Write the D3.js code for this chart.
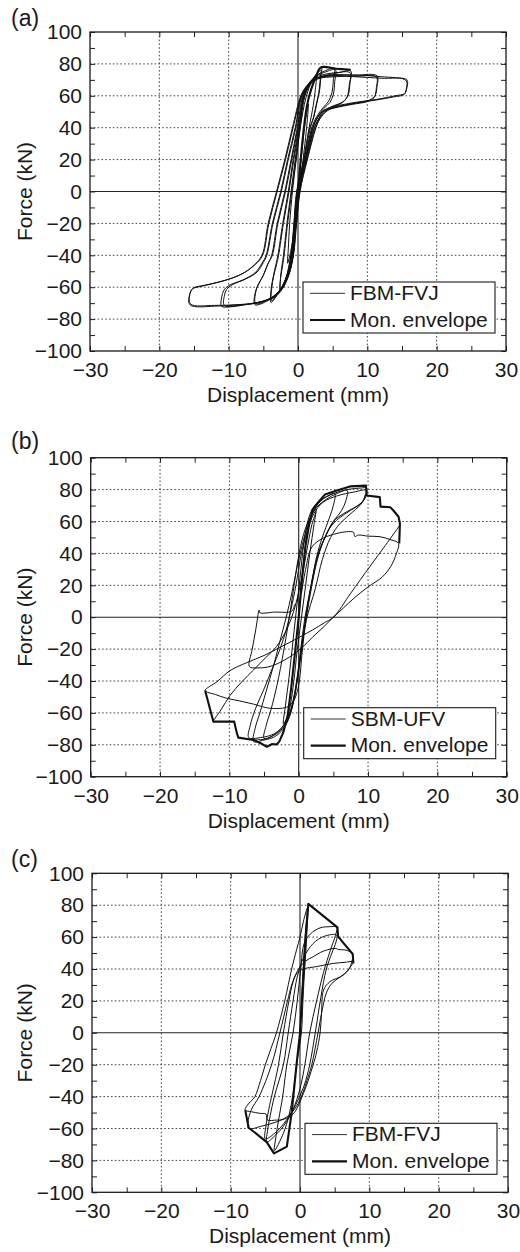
<!DOCTYPE html>
<html><head><meta charset="utf-8">
<script src="https://cdn.jsdelivr.net/npm/d3@7/dist/d3.min.js"></script>
<style>
body{margin:0;background:#fff}
text{font-family:"Liberation Sans",Arial,Helvetica,sans-serif;fill:#1a1a1a}
</style></head>
<body><svg id="chart" width="520" height="1252"></svg>
<script>
// ---------------- data ----------------
const xMajor = [-30, -20, -10, 0, 10, 20, 30];
const xMinor = [-30, -25, -20, -15, -10, -5, 0, 5, 10, 15, 20, 25, 30];
const yMajor = [-100, -80, -60, -40, -20, 0, 20, 40, 60, 80, 100];
const yMinor = [-100, -90, -80, -70, -60, -50, -40, -30, -20, -10, 0, 10, 20, 30, 40, 50, 60, 70, 80, 90, 100];
const panelLabels = ["(a)", "(b)", "(c)"];
const seriesNames = [["FBM-FVJ", "Mon. envelope"], ["SBM-UFV", "Mon. envelope"], ["FBM-FVJ", "Mon. envelope"]];
const xTitle = "Displacement (mm)";
const yTitle = "Force (kN)";

// (a) FBM-FVJ cyclic
const cyclicA1 = [[0,0],[0.5,22],[1.0,42],[1.5,55],
[1.35,45],[1.0,30],[0.6,15],[0.1,0],[-0.3,-15],[-0.8,-32],[-1.5,-45],
[-1.4,-36],[-1.2,-20],[-0.8,0],[-0.2,22],[0.4,42],[1.1,58],[1.8,67],[2.6,72],
[2.5,64],[2.2,54],[1.6,40],[0.8,20],[-0.2,0],[-0.6,-20],[-1.0,-40],[-1.7,-54],[-2.6,-62],
[-2.5,-54],[-2.2,-46],[-2.0,-40],[-1.5,-20],[-0.9,0],[-0.3,20],[0.3,40],[1.0,60],[1.8,68],[2.6,73.5],[3.4,77.5],
[3.3,72],[3.1,63],[2.7,55],[2.3,47],[1.8,40],[0.9,20],[-0.1,0],[-0.5,-20],[-0.9,-40],[-1.6,-53],[-2.6,-62],[-3.9,-69.5],
[-3.9,-62],[-3.6,-54],[-3.2,-46],[-2.9,-40],[-2.2,-20],[-1.4,0],[-0.7,20],[0.1,40],[0.8,60],[1.6,68],[2.6,72.5],[3.8,75.5],[5.2,77],
[5.1,70],[4.9,62],[4.4,56.5],[3.6,52.5],[2.7,47],[2.0,40],[1.0,20],[0,0],[-0.4,-20],[-0.8,-40],[-1.5,-53],[-2.6,-62],[-4,-67.5],[-6.2,-71],
[-6.2,-64],[-5.8,-59],[-5.1,-53.5],[-4.4,-46],[-3.8,-40],[-3.0,-20],[-1.9,0],[-1.0,20],[-0.1,40],[0.7,60],[1.5,67],[2.6,71.5],[4.2,73.8],[6,74.7],[7.6,75.5],
[7.5,68],[7.2,60],[6.5,56.3],[5,53.5],[3.6,50.5],[2.8,46],[2.2,40],[1.1,20],[0.1,0],[-0.3,-20],[-0.75,-40],[-1.4,-52],[-2.4,-61],[-3.8,-67],[-6,-70],[-8.5,-71.3],[-11,-72],
[-11,-66],[-10.7,-62],[-10,-59],[-8,-55.5],[-6.2,-51],[-5.2,-45],[-4.6,-40],[-3.7,-20],[-2.5,0],[-1.5,20],[-0.4,40],[0.5,60],[1.4,66],[2.6,70.5],[5,72.5],[8.5,73],[11.4,72.5],
[11.4,66],[11.1,60],[10.3,57.3],[8,55.2],[5.5,53],[3.8,50.5],[3,45.5],[2.4,40],[1.2,20],[0.2,0],[-0.25,-20],[-0.7,-40],[-1.3,-52],[-2.3,-61],[-3.5,-66],[-5.5,-69.5],[-8.5,-71],[-11.5,-71.8],[-15.6,-71],
[-15.6,-64],[-15.2,-61],[-14,-59.5],[-12,-57.5],[-10,-55],[-8,-51.5],[-6.3,-46],[-5.2,-40],[-4.3,-20],[-3.1,0],[-1.9,20],[-0.8,40],[0.4,60],[1.2,66],[2.2,70],[4,72.5],[8,72],[12,71],[15.7,70],
[15.7,65],[15.4,61.5],[14,60],[11.4,57.8],[7.5,55.3],[4.5,52],[3.3,47],[2.6,40],[1.35,20],[0.3,0],[-0.2,-20],[-0.65,-40],[-1.3,-52],[-2.1,-60],[-3,-65],[-4,-68]];
const cyclicA2 = [[-2.6,-61],[-2.5,-53],[-2.3,-46],[-2.1,-40],[-1.6,-20],[-1.0,0],[-0.4,20],[0.2,40],[0.9,59],[1.7,67],[2.5,72.5],[3.3,76],
[3.2,70],[3.0,62],[2.6,54],[2.2,46],[1.7,40],[0.85,20],[-0.15,0],[-0.55,-20],[-0.95,-40],[-1.7,-54],[-2.7,-62.5],[-3.8,-68.5],
[-3.8,-61],[-3.5,-53],[-3.1,-46],[-2.8,-40],[-2.1,-20],[-1.3,0],[-0.6,20],[0.2,40],[0.9,60],[1.7,68],[2.7,72.5],[4,75],[5.4,76.3],
[5.3,69],[5.1,61],[4.6,55.8],[3.7,52],[2.8,46.5],[2.1,40],[1.05,20],[0.05,0],[-0.35,-20],[-0.8,-40],[-1.5,-53],[-2.6,-62],[-4,-67],[-6.1,-70.3],
[-6.1,-63],[-5.7,-58],[-5,-52.5],[-4.3,-45],[-3.7,-40],[-2.9,-20],[-1.8,0],[-0.9,20],[0,40],[0.8,60],[1.6,67],[2.7,71],[4.5,73.3],[7.5,74.5],
[7.4,67],[7.1,59.5],[6.4,55.7],[4.9,53],[3.5,50],[2.7,45.5],[2.15,40],[1.1,20],[0.1,0],[-0.3,-20],[-0.75,-40],[-1.4,-52],[-2.5,-61],[-4,-67],[-6.5,-70],[-10.6,-71.5],
[-10.6,-65],[-10.3,-61.5],[-9.5,-58.5],[-7.6,-55],[-5.9,-50.5],[-5,-44.5],[-4.5,-40],[-3.6,-20],[-2.4,0],[-1.4,20],[-0.3,40],[0.6,60],[1.5,66],[2.8,70.5],[5.5,72],[8.5,72.3],[11.3,71.8],
[11.3,65],[11,59],[10.1,56.5],[7.8,54.6],[5.3,52.4],[3.7,50],[2.9,45],[2.35,40],[1.15,20],[0.15,0],[-0.3,-20],[-0.7,-40],[-1.35,-52],[-2.4,-61],[-3.7,-66.3],[-6,-69.8],[-9,-71],[-12,-71.4],[-15.5,-70.5],
[-15.5,-63],[-15,-60.3],[-13.5,-58.8],[-11.5,-56.8],[-9.5,-54.3],[-7.6,-50.5],[-6.1,-45.5],[-5.1,-40],[-4.2,-20],[-3.0,0],[-1.8,20],[-0.7,40],[0.5,60],[1.3,66],[2.4,70.3],[4.5,73],[8,73],[12,72],[15.6,69.5],
[15.6,64],[15.3,60.8],[13.8,59.3],[11.2,57.3],[7.5,54.8],[4.6,51.6],[3.4,47],[2.55,40],[1.3,20],[0.25,0],[-0.2,-20]];
const envelopeA = [[-2.2,-60],[-1.5,-52],[-0.9,-38],[-0.4,-18],[0,0],[0.35,18],[0.8,38],[1.3,54],[1.9,64],[2.6,72],[3.3,77.8],[5.5,77],[7.6,76.3]];

// (b) SBM-UFV cyclic
const cyclicB1 = [[0,0],[0.3,15],[0.7,35],[1.1,50],[1.5,60],[2,65],[2.5,68],
[2.2,58],[1.6,40],[1,20],[0.4,0],[-0.2,-20],[-0.7,-40],[-1.2,-55],[-1.7,-63],[-2.2,-67],
[-1.9,-55],[-1.4,-38],[-0.9,-18],[-0.4,2],[0.2,25],[0.7,45],[1.3,60],[2,68],[3,73],[4.2,76],[5.2,77.5],
[5,70],[4.4,62],[3.4,50],[2.6,38],[1.8,20],[0.9,0],[0.3,-20],[-0.3,-40],[-0.9,-55],[-1.6,-65],[-2.6,-71],[-3.8,-74.5],[-5,-76],
[-4.7,-68],[-4,-58],[-3.1,-42],[-2.2,-22],[-1.5,-4],[-0.8,16],[-0.1,36],[0.7,52],[1.6,62],[2.6,69],[4,74],[5.5,77.5],[7,79.5],
[6.8,73],[6.2,67],[5,60],[3.8,50],[2.8,40],[2,25],[1.2,5],[0.5,-15],[-0.1,-35],[-0.6,-50],[-1.3,-62],[-2.2,-70],[-3.5,-75],[-5,-77],[-6.5,-78],
[-6.3,-70],[-5.6,-60],[-4.6,-45],[-3.6,-30],[-2.7,-15],[-1.8,0],[-1,15],[-0.2,32],[0.6,47],[1.5,60],[2.3,68],[3.5,74],[5,77.5],[7,80],[9,81],[9.8,81],
[9.6,76],[9,71.5],[7.5,67],[5.8,62],[4.5,56],[3.3,45],[2.3,30],[1.5,12],[0.8,-8],[0.2,-28],[-0.4,-45],[-1,-57],[-2,-67],[-3.5,-73],[-5.5,-75.5],[-7.2,-75.5],
[-7,-68],[-6.2,-57],[-5,-45],[-3.8,-32],[-2.7,-20],[-1.8,-8],[-1.1,5],[-0.4,20],[0.4,40],[1.3,55],[2.2,65],[3.5,72],[5.5,76],[8,78.5],[9.8,79.5],
[9.5,74],[8.5,70],[6.5,65],[5,60],[3.8,50],[2.8,38],[1.9,20],[1.1,0],[0.4,-20],[-0.2,-38],[-0.8,-52],[-1.6,-63],[-2.8,-71],[-4.5,-76],[-6.8,-77]];
const cyclicB2 = [[0.4,15],[1,30],[1.9,44],[3.5,49.5],[5.5,52.5],[6.9,53.6],[7.9,53.3],[8.1,50.6],[8.6,51.5],[10,50.8],[11.7,50.5],[13.3,48.5],[14.4,46.3],
[14.1,40],[13.3,32],[12,25],[10,19],[8,12],[6.5,6],[5,0],[3.5,-6.5],[2,-12.5],[0.5,-19],[-1.25,-24.8],[-3,-29],[-4.5,-31.3],[-6,-31.8],[-7.1,-31],
[-6.7,-20],[-6.2,-8],[-5.7,4.5],[-5.6,2.8],[-3.5,3.2],[-1,3.8],[-0.6,8]];
const cyclicB3 = [[9.6,77],[9.2,72],[7.8,66],[6,59],[4.6,50],[3.4,36],[2.4,18],[1.1,-2],[0.5,-22],[0.1,-40],[-0.3,-48],[-0.8,-53],[-1.5,-56],[-2.7,-57.2],[-4.6,-56.8],[-6.5,-54.5],[-8.5,-52.5],[-10.4,-50.8],[-12,-48.5],[-13.5,-46],
[-11.8,-40.5],[-9.9,-33.5],[-7.5,-28.5],[-5,-24],[-2.5,-18.5],[-0.3,-13.5],[2,-8],[3.7,-3.5],[5,0],[7.5,15],[10.3,32],[12.5,45],[14.6,57.8]];
const cyclicB4 = [[-12.3,-64.8],[-11.2,-58],[-9.9,-49],[-8.2,-40.5],[-6.5,-33],[-4.8,-25.5],[-3.2,-18.5],[-2,-10],[-1,0],[-0.2,12],[0.6,28],[1.3,45],[1.9,58],[2.5,66]];
const envelopeB = [[-13.5,-46],[-12.3,-65.5],[-9.3,-65.5],[-8.9,-73],[-8.7,-75.5],[-6.5,-77],[-5.5,-79],[-4.6,-81.2],[-3.8,-79.5],[-3.2,-79.8],[-2.8,-78],[-2.2,-72],[-1.6,-62],[-1.1,-45],[-0.6,-25],[0,0],[0.5,25],[1,45],[1.5,58],[2,67.5],[2.8,72],[3.8,77],[5.5,79.5],[7.4,82],[9.7,82.5],[9.8,76.3],[11.7,75.3],[11.8,69.3],[13.2,68.9],[13.6,67.2],[14.4,63],[14.6,58.8],[14.5,46.3]];

// (c) FBM-FVJ cyclic
const cyclicC = [[0,0],[0.3,25],[0.6,50],[0.9,68],[1.2,80.5],
[1.1,72],[0.9,55],[0.6,35],[0.4,18],[0.2,0],[-0.5,-20],[-1.0,-38],[-1.6,-52],[-2.4,-63],[-3.7,-74],
[-3.5,-66],[-3.1,-55],[-2.5,-40],[-1.9,-20],[-1.0,0],[-0.4,20],[0.1,40],[0.6,56],[1.5,62],[2.9,65.8],[4.2,66.5],[5.3,66.2],
[5.1,61],[4.4,52],[3.4,38],[2.4,20],[1.4,0],[0.7,-20],[0,-35],[-1,-48],[-2.3,-58],[-3.5,-64],[-4.8,-68.5],
[-4.7,-62],[-4.3,-52],[-3.7,-40],[-2.4,-20],[-1.7,0],[-1.0,20],[-0.4,35],[0.5,47],[1.9,56],[3.5,60.5],[5.3,61.3],
[5.2,57],[4.6,50],[3.8,40],[3,22],[2.2,0],[1.4,-20],[0.6,-33],[-0.6,-45],[-2,-55],[-3.4,-62],[-5,-66.5],
[-4.9,-58],[-4.5,-48],[-4,-38],[-3.1,-20],[-2.4,0],[-1.6,20],[-1,32],[-0.2,40],[0.8,45],[1.9,47.7],[3,50.5],[3.8,51.8],[4.8,52.9],[5.3,52.7],[5.6,52.2],[6.4,52],[7.2,50.9],[7.6,49.4],
[7.5,45],[7,39.5],[5.8,35],[4.6,31],[3.8,25],[3.1,12],[2.6,0],[1.7,-20],[1,-30],[0.2,-40],[-0.8,-48],[-2,-53],[-3.5,-56],[-5.5,-58.5],[-7.4,-60],
[-7.5,-56],[-7,-48],[-5.9,-40],[-4.1,-20],[-2.9,0],[-1.8,20],[-1.2,30],[-0.5,37],[0.5,40],[2.4,41.5],[4.8,43.5],[6.5,44.2],[7.7,44.6],
[7.45,42.5],[6.25,36.2],[4.3,32],[3.4,26.8],[3.1,12],[2.9,0],[2.4,-12],[1.9,-20],[0.5,-38],[-1,-51],[-2.2,-54],[-2.9,-54.7],[-3.4,-54.7],[-4.7,-54.7],[-4.9,-51],[-5.8,-50.5],[-7,-49.5],[-7.9,-48.5],
[-7.7,-46],[-7.1,-43],[-6.5,-40],[-5.7,-30],[-5,-20],[-4.2,-10],[-3.4,0],[-2.2,20],[-1.2,40],[-0.5,52],[0,60],[0.5,70],[1.0,78]];
const envelopeC = [[-7.9,-48.5],[-7.4,-59.5],[-4.8,-68.5],[-3.75,-75.6],[-1.9,-71.4],[-1.2,-50],[-0.5,-20],[0,0],[0.4,30],[0.8,60],[1.2,80.8],[5.4,66.1],[5.5,60.3],[7.6,49.4],[7.7,43.5]];

const cyclicData = [[cyclicA1, cyclicA2], [cyclicB1, cyclicB2, cyclicB3, cyclicB4], [cyclicC]];
const envelopeData = [envelopeA, envelopeB, envelopeC];
const envelopeSmooth = [true, false, false];

// ---------------- layout ----------------
const boxes = [
  {left: 90, right: 506, top: 32, bottom: 351, labelY: 26},
  {left: 90.7, right: 506.7, top: 457.7, bottom: 776.7, labelY: 449},
  {left: 92, right: 508, top: 873.3, bottom: 1192.3, labelY: 867}
];
const FS = 21;
const svg = d3.select("#chart");
const defs = svg.append("defs");

boxes.forEach((b, i) => {
  const x = d3.scaleLinear().domain([-30, 30]).range([b.left, b.right]);
  const y = d3.scaleLinear().domain([-100, 100]).range([b.bottom, b.top]);
  const g = svg.append("g");
  const W = b.right - b.left, H = b.bottom - b.top;

  defs.append("clipPath").attr("id", "clip" + i)
    .append("rect").attr("x", b.left).attr("y", b.top).attr("width", W).attr("height", H);

  // dotted grid
  g.append("g").selectAll("line").data(xMajor.filter(v => v !== 0 && Math.abs(v) !== 30)).join("line")
    .attr("x1", d => x(d)).attr("x2", d => x(d)).attr("y1", b.top).attr("y2", b.bottom)
    .attr("stroke", "#444").attr("stroke-width", 1).attr("stroke-dasharray", "1.6,2.2");
  g.append("g").selectAll("line").data(yMajor.filter(v => v !== 0 && Math.abs(v) !== 100)).join("line")
    .attr("y1", d => y(d)).attr("y2", d => y(d)).attr("x1", b.left).attr("x2", b.right)
    .attr("stroke", "#444").attr("stroke-width", 1).attr("stroke-dasharray", "1.6,2.2");
  // zero lines
  g.append("line").attr("x1", x(0)).attr("x2", x(0)).attr("y1", b.top).attr("y2", b.bottom)
    .attr("stroke", "#222").attr("stroke-width", 1.1);
  g.append("line").attr("y1", y(0)).attr("y2", y(0)).attr("x1", b.left).attr("x2", b.right)
    .attr("stroke", "#222").attr("stroke-width", 1.1);

  // curves
  const cg = g.append("g").attr("clip-path", `url(#clip${i})`);
  const lineSmooth = d3.line().x(d => x(d[0])).y(d => y(d[1])).curve(d3.curveCatmullRom.alpha(0.5));
  const lineSharp = d3.line().x(d => x(d[0])).y(d => y(d[1]));
  cyclicData[i].forEach(s => {
    cg.append("path").attr("d", lineSmooth(s)).attr("fill", "none")
      .attr("stroke", "#111").attr("stroke-width", 1).attr("stroke-linejoin", "round");
  });
  cg.append("path").attr("d", (envelopeSmooth[i] ? lineSmooth : lineSharp)(envelopeData[i]))
    .attr("fill", "none").attr("stroke", "#111").attr("stroke-width", 2.1).attr("stroke-linejoin", "round");

  // ticks (inward, all four sides)
  const tickStyle = sel => { sel.select(".domain").remove(); sel.selectAll("line").attr("stroke", "#222").attr("stroke-width", 1); };
  g.append("g").attr("transform", `translate(0,${b.bottom})`)
    .call(d3.axisBottom(x).tickValues(xMinor).tickSize(-5).tickFormat("")).call(tickStyle);
  g.append("g").attr("transform", `translate(0,${b.top})`)
    .call(d3.axisTop(x).tickValues(xMinor).tickSize(-5).tickFormat("")).call(tickStyle);
  g.append("g").attr("transform", `translate(${b.left},0)`)
    .call(d3.axisLeft(y).tickValues(yMinor).tickSize(-5).tickFormat("")).call(tickStyle);
  g.append("g").attr("transform", `translate(${b.right},0)`)
    .call(d3.axisRight(y).tickValues(yMinor).tickSize(-5).tickFormat("")).call(tickStyle);

  // tick labels
  const xl = g.append("g").attr("transform", `translate(0,${b.bottom})`)
    .call(d3.axisBottom(x).tickValues(xMajor).tickSize(0).tickPadding(11));
  xl.select(".domain").remove();
  xl.selectAll("text").attr("font-size", FS).attr("font-family", "Liberation Sans, Arial, sans-serif").attr("fill", "#1a1a1a");
  const yl = g.append("g").attr("transform", `translate(${b.left},0)`)
    .call(d3.axisLeft(y).tickValues(yMajor).tickSize(0).tickPadding(8));
  yl.select(".domain").remove();
  yl.selectAll("text").attr("font-size", FS).attr("font-family", "Liberation Sans, Arial, sans-serif").attr("fill", "#1a1a1a");

  // frame
  g.append("rect").attr("x", b.left).attr("y", b.top).attr("width", W).attr("height", H)
    .attr("fill", "none").attr("stroke", "#1a1a1a").attr("stroke-width", 1.3);

  // titles
  g.append("text").attr("x", x(0)).attr("y", b.bottom + 51).attr("text-anchor", "middle")
    .attr("font-size", FS).text(xTitle);
  g.append("text").attr("transform", `translate(32,${y(0)}) rotate(-90)`).attr("text-anchor", "middle")
    .attr("font-size", FS).text(yTitle);
  g.append("text").attr("x", 11).attr("y", b.labelY).attr("font-size", 23).text(panelLabels[i]);

  // legend
  const lx = b.left + 213, ly = b.top + 250;
  const lg = g.append("g");
  lg.append("rect").attr("x", lx).attr("y", ly).attr("width", 192).attr("height", 51)
    .attr("fill", "#fff").attr("stroke", "#1a1a1a").attr("stroke-width", 1.1);
  lg.append("line").attr("x1", lx + 7).attr("x2", lx + 42).attr("y1", ly + 11.3).attr("y2", ly + 11.3)
    .attr("stroke", "#1a1a1a").attr("stroke-width", 0.9);
  lg.append("text").attr("x", lx + 47).attr("y", ly + 18).attr("font-size", FS).text(seriesNames[i][0]);
  lg.append("line").attr("x1", lx + 7).attr("x2", lx + 42).attr("y1", ly + 38).attr("y2", ly + 38)
    .attr("stroke", "#111").attr("stroke-width", 2.2);
  lg.append("text").attr("x", lx + 47).attr("y", ly + 44.7).attr("font-size", FS).text(seriesNames[i][1]);
});
</script>
</body></html>
